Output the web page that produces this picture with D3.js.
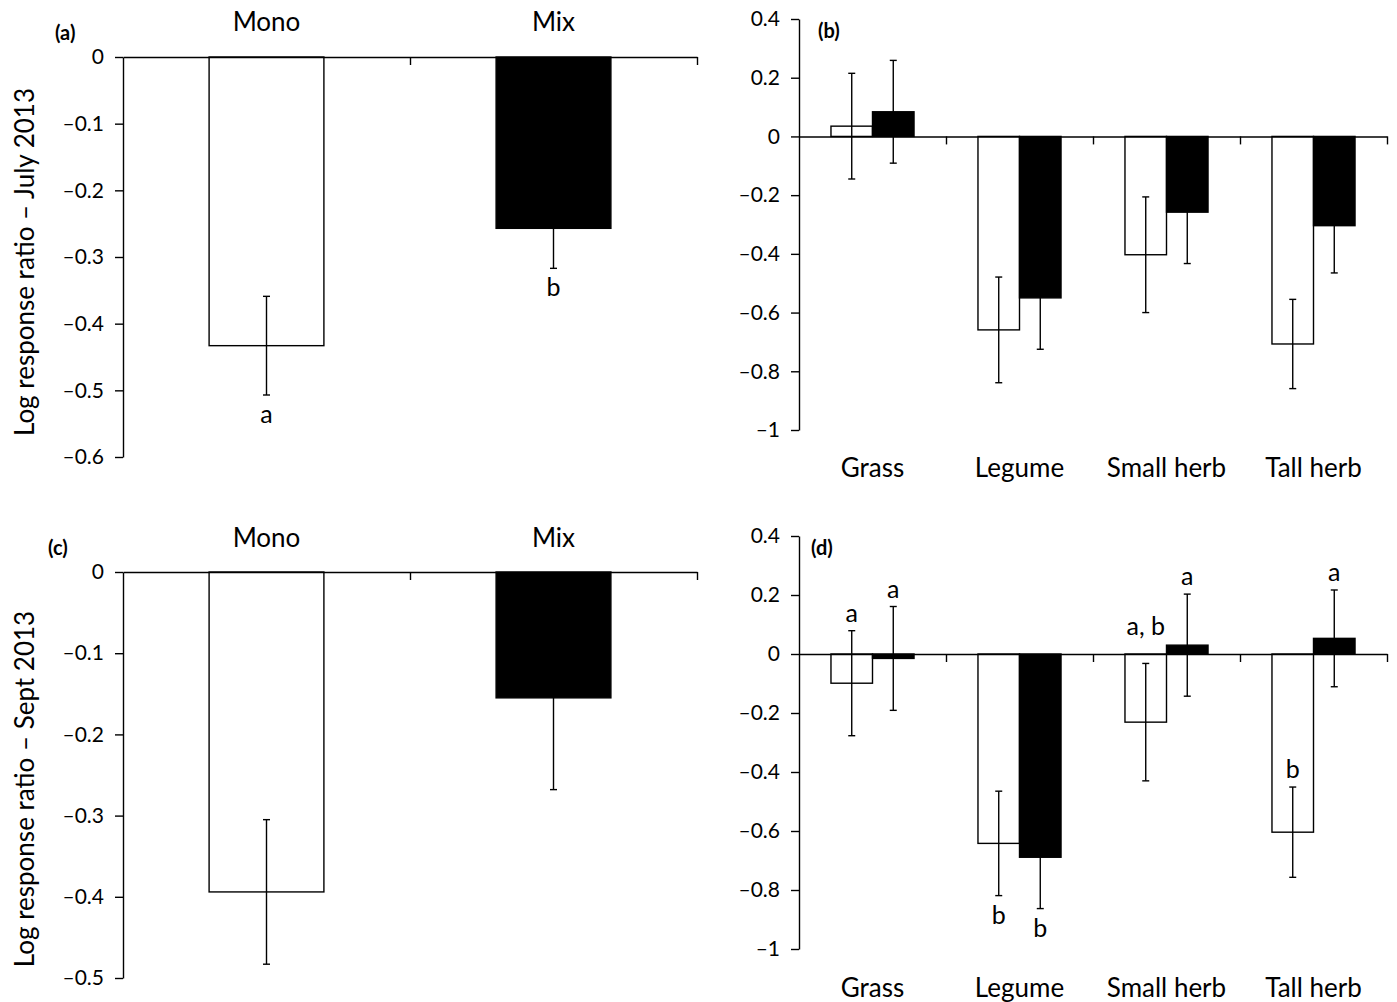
<!DOCTYPE html>
<html>
<head>
<meta charset="utf-8">
<script src="https://cdn.jsdelivr.net/npm/d3@7"></script>
<style>
  html, body { margin: 0; padding: 0; background: #fff; }
  svg { display: block; }
  text { font-family: Lato, "Open Sans", sans-serif; fill: #000; }
</style>
</head>
<body>
<svg id="chart" width="1397" height="1002"></svg>
<script>
// ---------------- DATA ----------------
const treatments = ["Mono", "Mix"];
const groups = ["Grass", "Legume", "Small herb", "Tall herb"];

// Panel (a): July 2013, overall
const julyMean = [-0.433, -0.257];
const julySE = [0.074, 0.060];
const julyLetters = ["a", "b"];

// Panel (c): Sept 2013, overall
const septMean = [-0.394, -0.155];
const septSE = [0.089, 0.113];

// Panel (b): July 2013, by functional group
const julyMonoMean = [0.035, -0.659, -0.403, -0.707];
const julyMonoSE = [0.180, 0.180, 0.197, 0.152];
const julyMixMean = [0.084, -0.550, -0.258, -0.304];
const julyMixSE = [0.175, 0.175, 0.175, 0.161];

// Panel (d): Sept 2013, by functional group
const septMonoMean = [-0.099, -0.642, -0.231, -0.604];
const septMonoSE = [0.178, 0.177, 0.199, 0.153];
const septMixMean = [-0.015, -0.689, 0.030, 0.053];
const septMixSE = [0.176, 0.174, 0.173, 0.164];
const septMonoLetters = ["a", "b", "a, b", "b"];
const septMonoSide = ["above", "below", "aboveBar", "above"];
const septMixLetters = ["a", "b", "a", "a"];
const septMixSide = ["above", "below", "above", "above"];

// Tick values
const ticksA = [0, -0.1, -0.2, -0.3, -0.4, -0.5, -0.6];
const ticksC = [0, -0.1, -0.2, -0.3, -0.4, -0.5];
const ticksBD = [0.4, 0.2, 0, -0.2, -0.4, -0.6, -0.8, -1];

const yTitleJuly = "Log response ratio \u2013 July 2013";
const yTitleSept = "Log response ratio \u2013 Sept 2013";

// ---------------- DRAW ----------------
const svg = d3.select("#chart");
const fmt = v => v === 0 ? "0" : (v < 0 ? "\u2013" : "") + String(Math.abs(v));
const colors = { Mono: "#fff", Mix: "#000" };

function drawAxes(g, x0, x1, y, ticks, nCats) {
  g.append("g")
    .attr("transform", `translate(${x0},0)`)
    .call(d3.axisLeft(y).tickValues(ticks).tickSize(8).tickSizeOuter(0).tickPadding(11).tickFormat(fmt))
    .call(s => s.selectAll("path,line").attr("stroke", "#000").attr("stroke-width", 1.4))
    .call(s => s.selectAll("text").attr("font-size", 21).attr("font-family", "Lato, sans-serif").attr("fill", "#000"));
  const xi = d3.scaleLinear().domain([0, nCats]).range([x0, x1]);
  g.append("g")
    .attr("transform", `translate(0,${y(0)})`)
    .call(d3.axisBottom(xi).tickValues(d3.range(1, nCats + 1)).tickSize(8).tickSizeOuter(0).tickFormat(""))
    .call(s => s.selectAll("path,line").attr("stroke", "#000").attr("stroke-width", 1.4));
}

function drawBar(g, x, w, y, mean, se, fill) {
  g.append("rect")
    .attr("x", x).attr("width", w)
    .attr("y", Math.min(y(mean), y(0)))
    .attr("height", Math.abs(y(mean) - y(0)))
    .attr("fill", fill).attr("stroke", "#000").attr("stroke-width", 1.4);
  const cx = x + w / 2;
  const eb = g.append("g").attr("stroke", "#000").attr("stroke-width", 1.4);
  eb.append("line").attr("x1", cx).attr("x2", cx).attr("y1", y(mean + se)).attr("y2", y(mean - se));
  [mean + se, mean - se].forEach(v =>
    eb.append("line").attr("x1", cx - 3.5).attr("x2", cx + 3.5).attr("y1", y(v)).attr("y2", y(v)));
}

function letter(g, cx, y, mean, se, txt, side) {
  let yy;
  if (side === "below") yy = y(mean - se) + 28;
  else if (side === "aboveBar") yy = Math.min(y(mean + se), y(0)) - 19;
  else yy = y(mean + se) - 9;
  g.append("text").attr("x", cx).attr("y", yy).attr("text-anchor", "middle")
    .attr("font-size", 25).text(txt);
}

// Overall panels (a) and (c)
function overallPanel(opt) {
  const g = svg.append("g");
  const y = d3.scaleLinear().domain([opt.ticks[opt.ticks.length - 1], 0]).range([opt.yBottom, opt.yTop]);
  const x = d3.scaleBand().domain(treatments).range([opt.x0, opt.x1]).paddingInner(0.6).paddingOuter(0.3);
  treatments.forEach((t, i) => {
    drawBar(g, x(t), x.bandwidth(), y, opt.mean[i], opt.se[i], colors[t]);
  });
  drawAxes(g, opt.x0, opt.x1, y, opt.ticks, treatments.length);
  treatments.forEach((t, i) => {
    g.append("text").attr("x", x(t) + x.bandwidth() / 2).attr("y", opt.catY)
      .attr("text-anchor", "middle").attr("font-size", 26).text(t);
    if (opt.letters) letter(g, x(t) + x.bandwidth() / 2, y, opt.mean[i], opt.se[i], opt.letters[i], "below");
  });
  g.append("text").attr("x", opt.tagX).attr("y", opt.tagY).attr("font-size", 20)
    .attr("font-weight", "bold").text(opt.tag);
  g.append("text")
    .attr("transform", `translate(${opt.titleX},${opt.titleY}) rotate(-90)`)
    .attr("text-anchor", "middle").attr("font-size", 26).text(opt.title);
}

// Group panels (b) and (d)
function groupPanel(opt) {
  const g = svg.append("g");
  const y = d3.scaleLinear().domain([-1, 0.4]).range([opt.yBottom, opt.yTop]);
  const x = d3.scaleBand().domain(groups).range([opt.x0, opt.x1]).padding(0);
  const bw = x.bandwidth();
  const xs = d3.scaleBand().domain(treatments).range([bw * 0.2175, bw * 0.7825]).padding(0);
  const series = { Mono: [opt.monoMean, opt.monoSE], Mix: [opt.mixMean, opt.mixSE] };
  groups.forEach((grp, i) => {
    treatments.forEach(t => {
      drawBar(g, x(grp) + xs(t), xs.bandwidth(), y, series[t][0][i], series[t][1][i], colors[t]);
    });
  });
  drawAxes(g, opt.x0, opt.x1, y, ticksBD, groups.length);
  groups.forEach((grp, i) => {
    g.append("text").attr("x", x(grp) + bw / 2).attr("y", opt.catY)
      .attr("text-anchor", "middle").attr("font-size", 26).text(grp);
    if (opt.monoLetters) {
      letter(g, x(grp) + xs("Mono") + xs.bandwidth() / 2, y, opt.monoMean[i], opt.monoSE[i], opt.monoLetters[i], opt.monoSide[i]);
      letter(g, x(grp) + xs("Mix") + xs.bandwidth() / 2, y, opt.mixMean[i], opt.mixSE[i], opt.mixLetters[i], opt.mixSide[i]);
    }
  });
  g.append("text").attr("x", opt.tagX).attr("y", opt.tagY).attr("font-size", 20)
    .attr("font-weight", "bold").text(opt.tag);
}

overallPanel({ mean: julyMean, se: julySE, ticks: ticksA, letters: julyLetters,
  x0: 123, x1: 697, yTop: 57, yBottom: 457, catY: 31, tag: "(a)", tagX: 55, tagY: 40,
  title: yTitleJuly, titleX: 34, titleY: 262 });
overallPanel({ mean: septMean, se: septSE, ticks: ticksC, letters: null,
  x0: 123, x1: 697, yTop: 572, yBottom: 978, catY: 547, tag: "(c)", tagX: 48, tagY: 555,
  title: yTitleSept, titleX: 34, titleY: 789 });
groupPanel({ monoMean: julyMonoMean, monoSE: julyMonoSE, mixMean: julyMixMean, mixSE: julyMixSE,
  x0: 799, x1: 1387, yTop: 19, yBottom: 430, catY: 477, tag: "(b)", tagX: 818, tagY: 38 });
groupPanel({ monoMean: septMonoMean, monoSE: septMonoSE, mixMean: septMixMean, mixSE: septMixSE,
  monoLetters: septMonoLetters, monoSide: septMonoSide, mixLetters: septMixLetters, mixSide: septMixSide,
  x0: 799, x1: 1387, yTop: 536, yBottom: 949, catY: 997, tag: "(d)", tagX: 811, tagY: 555 });
</script>
</body>
</html>
